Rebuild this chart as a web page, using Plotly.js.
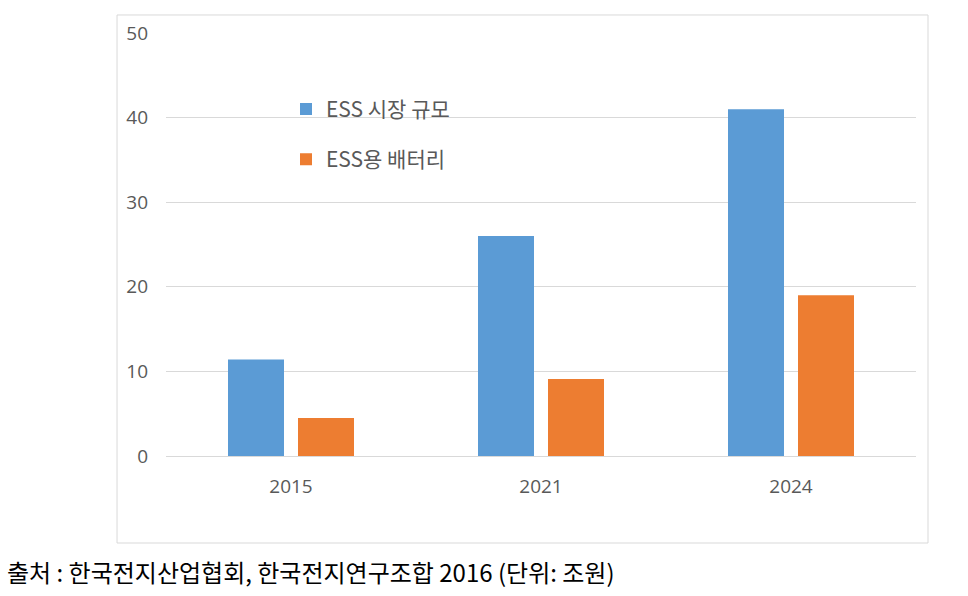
<!DOCTYPE html>
<html>
<head>
<meta charset="utf-8">
<script src="https://cdn.plot.ly/plotly-3.0.1.min.js"></script>
<style>html,body{margin:0;padding:0;background:#fff;}</style>
</head>
<body>
<div id="chart" style="width:968px;height:596px;"></div>
<script>
const years = ['2015', '2021', '2024'];
const essMarket = [11.4, 26.0, 41.0];
const essBattery = [4.5, 9.1, 19.0];
const seriesNames = ['ESS 시장 규모', 'ESS용 배터리'];
const caption = '출처 : 한국전지산업협회, 한국전지연구조합 2016 (단위: 조원)';

const baseFont = 'Noto Sans CJK KR, Noto Sans, sans-serif';
const tickFont = 'Open Sans, Noto Sans, sans-serif';

const data = [
  {type: 'bar', x: years, y: essMarket, name: seriesNames[0], legendgroup: 'a',
   marker: {color: '#5b9bd5'}, hoverinfo: 'x+y'},
  {type: 'bar', x: years, y: essBattery, name: seriesNames[1], legendgroup: 'b',
   marker: {color: '#ed7d31'}, hoverinfo: 'x+y'}
];

const layout = {
  width: 968, height: 596,
  margin: {l: 166, r: 52, t: 33, b: 140},
  paper_bgcolor: '#ffffff', plot_bgcolor: '#ffffff',
  font: {family: baseFont, color: '#595959', size: 16},
  barmode: 'group', bargap: 0.44, bargroupgap: 0.2,
  xaxis: {type: 'category', showgrid: false, showline: true, linecolor: '#d9d9d9', linewidth: 1,
          ticks: '', tickfont: {size: 19, color: '#595959', family: tickFont}, ticklabelstandoff: 13},
  yaxis: {range: [0, 50], dtick: 10, showgrid: true, gridcolor: '#d9d9d9', gridwidth: 1,
          zeroline: false, showline: false, ticks: '', tickfont: {size: 19, color: '#595959', family: tickFont},
          ticklabelstandoff: 17},
  showlegend: true,
  legend: {x: 0.16, y: 0.868, xanchor: 'left', yanchor: 'top', bgcolor: 'rgba(0,0,0,0)',
           font: {size: 21, color: '#595959'}, traceorder: 'grouped', tracegroupgap: 20,
           itemwidth: 30},
  shapes: [
    {type: 'rect', xref: 'paper', yref: 'paper', x0: -0.0653, x1: 1.016, y0: -0.2057, y1: 1.0426,
     line: {color: '#d9d9d9', width: 1}, fillcolor: 'rgba(0,0,0,0)', layer: 'below'}
  ],
  annotations: [
    {xref: 'paper', yref: 'paper', x: -0.2147, y: -0.274, xanchor: 'left', yanchor: 'middle',
     text: caption, showarrow: false, font: {size: 24, color: '#000000', family: baseFont}}
  ]
};

Plotly.newPlot('chart', data, layout, {displayModeBar: false, staticPlot: true});
</script>
</body>
</html>
